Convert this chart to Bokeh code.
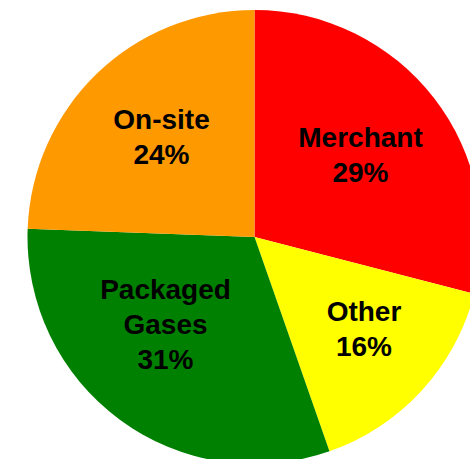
import math
from bokeh.plotting import figure
from bokeh.models import Range1d, ColumnDataSource
from bokeh.core.properties import value
from bokeh.embed import file_html
from bokeh.resources import INLINE

# ---- data ----
categories = ["Merchant", "Other", "Packaged Gases", "On-site"]
shares = [29.0, 15.6, 30.9, 24.4]
label_lines = [["Merchant"], ["Other"], ["Packaged", "Gases"], ["On-site"]]

# ---- styles / layout ----
colors = ["#FF0000", "#FFFF00", "#008000", "#FF9900"]
W, H = 470, 459
CX, CY, R = 254, 222.5, 227
# first-baseline anchor of each label block (data units = pixels)
label_anchor = [(360, 322.5), (363.5, 148.5), (165, 170.5), (161, 340.5)]
LINE_STEP = 35

total = sum(shares)
starts, ends = [], []
cum = 0.0
for s in shares:
    a0 = math.pi / 2 - 2 * math.pi * cum / total
    cum += s
    a1 = math.pi / 2 - 2 * math.pi * cum / total
    starts.append(a0)
    ends.append(a1)

src = ColumnDataSource(dict(cat=categories, start=starts, end=ends, color=colors))

p = figure(width=W, height=H, output_backend="svg", toolbar_location=None,
           x_range=Range1d(0, W), y_range=Range1d(0, H), min_border=0)
p.axis.visible = False
p.grid.visible = False
p.outline_line_color = None
p.background_fill_color = "white"
p.border_fill_color = "white"

p.wedge(x=CX, y=CY, radius=R, start_angle="start", end_angle="end",
        direction="clock", fill_color="color", line_color=None, source=src)

tx, ty, tt = [], [], []
for lines, s, (ax, ay) in zip(label_lines, shares, label_anchor):
    all_lines = lines + [f"{round(100 * s / total)}%"]
    for i, line in enumerate(all_lines):
        tx.append(ax)
        ty.append(ay - i * LINE_STEP)
        tt.append(line)

p.text(x=tx, y=ty, text=tt, text_font=value("Liberation Sans"),
       text_font_style="bold", text_font_size="28px", text_color="black",
       text_align="center", text_baseline="alphabetic")

open("out.html", "w").write(file_html(p, INLINE))
